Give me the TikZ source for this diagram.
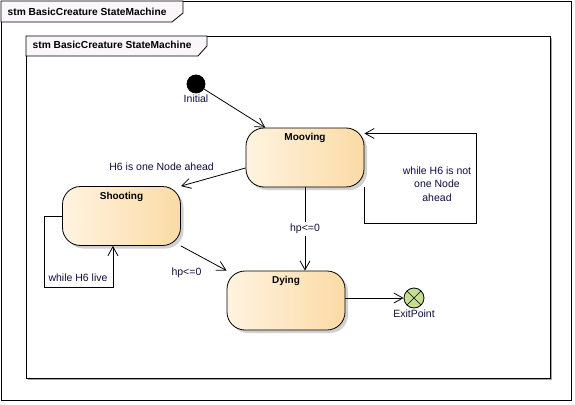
\documentclass[tikz,border=0pt]{standalone}
\usepackage{fontspec}
\setmainfont{Liberation Sans}
\usetikzlibrary{arrows.meta,positioning,shadows}

\definecolor{statelight}{RGB}{255,243,224}
\definecolor{statedark}{RGB}{251,219,166}
\definecolor{exitgreen}{RGB}{198,222,148}
\definecolor{labelnavy}{RGB}{14,14,60}
\definecolor{tabfill}{RGB}{250,246,250}

\begin{document}
\begin{tikzpicture}[x=1pt,y=-1pt,>={Straight Barb[length=9pt,width=10pt]},line width=0.8pt,
  state/.style={rectangle,rounded corners=18pt,draw,left color=statelight,right color=statedark,
    minimum width=118pt,minimum height=59pt,
    drop shadow={shadow xshift=3pt,shadow yshift=-3pt,fill=black!18,opacity=1}},
  state name/.style={font=\fontsize{10}{12}\selectfont\bfseries},
  edge label/.style={font=\fontsize{10.5}{13.5}\selectfont,text=labelnavy,inner sep=1pt},
  frame title/.style={font=\fontsize{10.2}{12}\selectfont\bfseries,anchor=west}]

  \useasboundingbox (0,0) rectangle (575,404);

  % frames
  \draw (1,1) rectangle (571,400);
  \filldraw[fill=tabfill] (1,1) -- (1,22) -- (172,22) -- (183,13) -- (183,1) -- cycle;
  \node[frame title] (outertitle) at (4,12) {stm BasicCreature StateMachine};

  \draw[fill=white,drop shadow={shadow xshift=2pt,shadow yshift=-2pt,fill=black!35,opacity=1}]
    (26,36) rectangle (550,378);
  \filldraw[fill=tabfill] (26,36) -- (26,56) -- (198,56) -- (207,46) -- (207,36) -- cycle;
  \node[frame title] (innertitle) at (29,45) {stm BasicCreature StateMachine};

  % states
  \node[circle,fill=black,draw,minimum size=18pt,inner sep=0pt,
    label={[edge label]below:Initial}] (initial) at (196,84) {};

  \node[state,label={[state name,anchor=north,yshift=-2pt]north:Mooving}] (mooving) at (305,157.5) {};
  \node[state,label={[state name,anchor=north,yshift=-2pt]north:Shooting}] (shooting) at (121.5,216) {};
  \node[state,label={[state name,anchor=north,yshift=-2pt]north:Dying}] (dying) at (286,300.5) {};

  \node[circle,draw,fill=exitgreen,minimum size=20pt,inner sep=0pt,
    path picture={\draw[line width=0.6pt] (path picture bounding box.north west) -- (path picture bounding box.south east)
      (path picture bounding box.north east) -- (path picture bounding box.south west);},
    label={[edge label]below:ExitPoint}] (exit) at (414,298) {};

  % transitions
  \path[->]
    (initial) edge (mooving.143.6)
    (mooving.190) edge node[edge label,above left=5pt and -2pt] {H6 is one Node ahead} (shooting.north east)
    (mooving.south) edge node[edge label,fill=white,inner sep=2pt] {hp<=0} (mooving.south |- dying.north)
    (shooting.south east) edge node[edge label,below left=8pt and 1pt] {hp<=0} (dying.north west)
    (dying.east |- exit) edge (exit);

  \draw[->] (mooving.south east) -- ++(0,36) -- ++(112,0) |- (mooving.22)
    node[edge label,align=center] at (437,184) {while H6 is not\\one Node\\ahead};
  \draw[->] (shooting.west) -- ++(-18,0) -- ++(0,71) -| (shooting.-106)
    node[edge label] at (78,278) {while H6 live};

\end{tikzpicture}
\end{document}
